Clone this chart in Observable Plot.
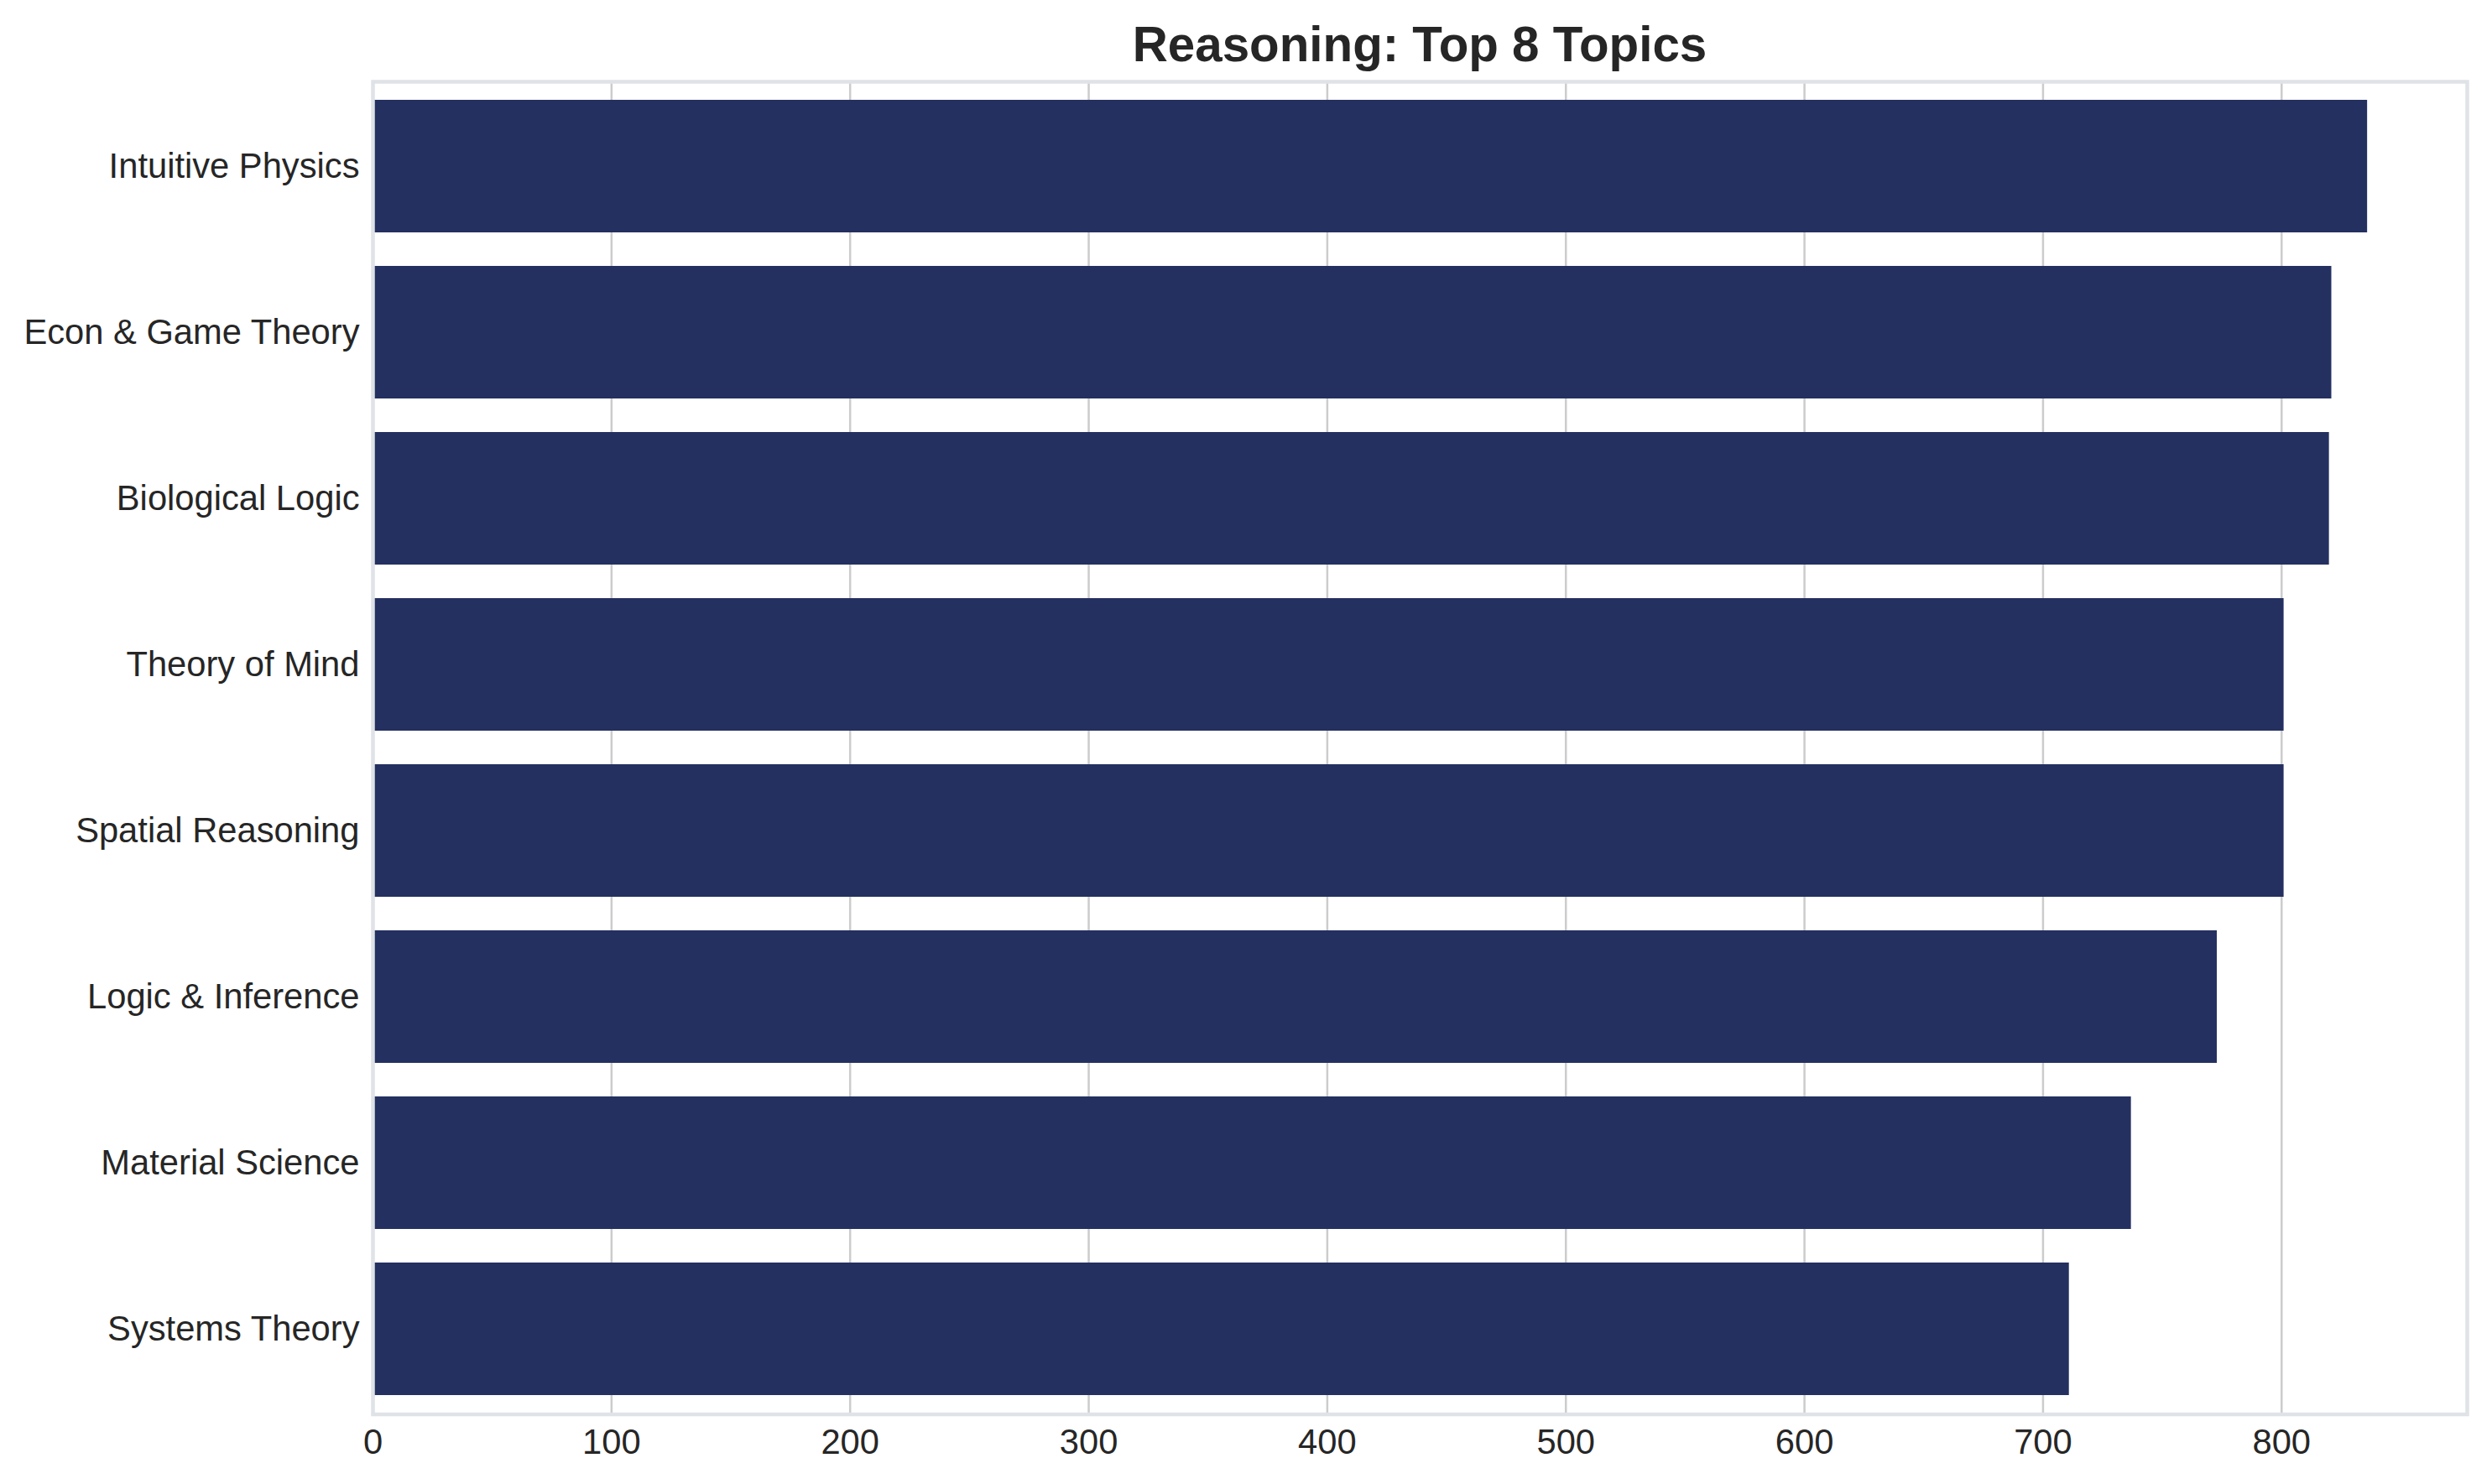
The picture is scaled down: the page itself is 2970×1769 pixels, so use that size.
<!DOCTYPE html>
<html>
<head>
<meta charset="utf-8">
<script src="https://cdn.jsdelivr.net/npm/d3@7"></script>
<script src="https://cdn.jsdelivr.net/npm/@observablehq/plot@0.6"></script>
<style>
  html, body { margin: 0; padding: 0; background: #ffffff; }
  #wrap { width: 2970px; height: 1769px; position: relative; overflow: hidden; }
  #title {
    position: absolute; left: 444px; width: 2496px; top: 24px; height: 58px;
    text-align: center; z-index: 2;
    font-family: "Liberation Sans", Arial, sans-serif; font-weight: bold;
    font-size: 58.3px; line-height: 58px; color: #262626; white-space: nowrap;
  }
  #chart { position: absolute; left: 0; top: 80px; z-index: 1; }
</style>
</head>
<body>
<div id="wrap">
  <div id="title">Reasoning: Top 8 Topics</div>
  <div id="chart"></div>
</div>
<script>
const topics = [
  "Intuitive Physics",
  "Econ & Game Theory",
  "Biological Logic",
  "Theory of Mind",
  "Spatial Reasoning",
  "Logic & Inference",
  "Material Science",
  "Systems Theory"
];
const counts = [836, 821, 820, 801, 801, 773, 737, 711];
const xTicks = [0, 100, 200, 300, 400, 500, 600, 700, 800];

const data = topics.map((t, i) => ({topic: t, value: counts[i]}));
const xMax = d3.max(counts) * 1.05;

const chart = Plot.plot({
  width: 2970,
  height: 1689,
  marginTop: 17,
  marginBottom: 83.5,
  marginLeft: 444,
  marginRight: 30,
  style: {
    fontFamily: "'Liberation Sans', Arial, sans-serif",
    fontSize: "41.7px",
    color: "#262626",
    background: "transparent"
  },
  x: {domain: [0, xMax], ticks: xTicks, label: null},
  y: {domain: topics, paddingInner: 0.2, paddingOuter: 0.1, label: null},
  marks: [
    Plot.gridX(xTicks, {stroke: "#cccccc", strokeOpacity: 1, strokeWidth: 2.5}),
    Plot.barX(data, {x: "value", y: "topic", fill: "#243060"}),
    Plot.frame({stroke: "#dfe2e6", strokeWidth: 4.5}),
    Plot.axisX(xTicks, {tickSize: 0, tickPadding: 17.5, fontSize: 41.7, label: null}),
    Plot.axisY({tickSize: 0, tickPadding: 16, fontSize: 41.7, label: null})
  ]
});
document.getElementById("chart").appendChild(chart);
</script>
</body>
</html>
